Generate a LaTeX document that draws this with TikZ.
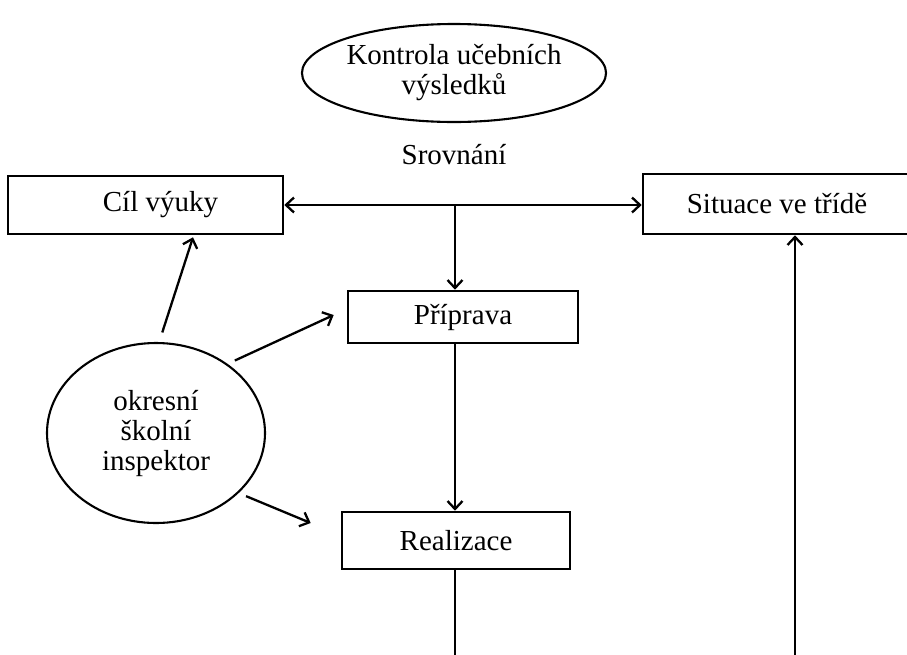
\documentclass[tikz,border=0pt]{standalone}
\usepackage{fontspec}
\setmainfont{Liberation Serif}
\usetikzlibrary{shapes.geometric,arrows.meta,calc}
\begin{document}
\begin{tikzpicture}[x=1pt,y=-1pt,
  txt/.style={font=\fontsize{29}{30}\selectfont},
  box/.style={txt,draw,line width=2.6pt,rectangle,inner sep=0pt},
  oval/.style={txt,draw,line width=2.1pt,ellipse,inner sep=0pt,align=center},
  conn/.style={line width=2.3pt},
  arr/.style={conn,-{Straight Barb[length=8pt,width=15pt]}},
  darr/.style={conn,{Straight Barb[length=8pt,width=15pt]}-{Straight Barb[length=8pt,width=15pt]}},
]
\clip (0,0) rectangle (907,654);
\fill[white] (0,0) rectangle (907,654);

% nodes
\node[oval,minimum width=286pt,minimum height=98pt] (kontrola) at (454,73) {Kontrola učebních\\výsledků};
\node[txt] (srov) at (454,155) {Srovnání};
\node[box,minimum width=275pt,minimum height=58pt] (cil) at (145.5,205) {\hspace*{30pt}Cíl výuky};
\node[box,minimum width=268pt,minimum height=60pt] (sit) at (777,204) {Situace ve třídě};
\node[box,minimum width=230pt,minimum height=52pt] (prip) at (463,317) {Příprava};
\node[box,minimum width=228pt,minimum height=57pt] (real) at (456,540.5) {Realizace};
\node[oval,minimum width=218pt,minimum height=180pt] (insp) at (156,433) {okresní\\školní\\inspektor};

% helper coordinates
\coordinate (j) at (455,205);
\coordinate (b1) at (455,660);
\coordinate (b2) at (795,660);

% connectors
\draw[darr] (cil.east) -- (cil.east -| sit.west);
\draw[arr] (j) -- (j |- prip.north);
\draw[arr] (j |- prip.south) -- (j |- real.north);
\draw[conn] (j |- real.south) -- (b1);
\draw[arr] (b2) -- (b2 |- sit.south);

\draw[arr,shorten <=10pt] (insp.88) -- ([xshift=47.5pt,yshift=-2pt]cil.south);
\draw[arr,shorten <=8pt] (insp.44) -- ([xshift=-13pt,yshift=2pt]prip.west);
\draw[arr,shorten <=8pt] (insp.-36) -- ([xshift=-30pt,yshift=17.5pt]real.west);
\end{tikzpicture}
\end{document}
